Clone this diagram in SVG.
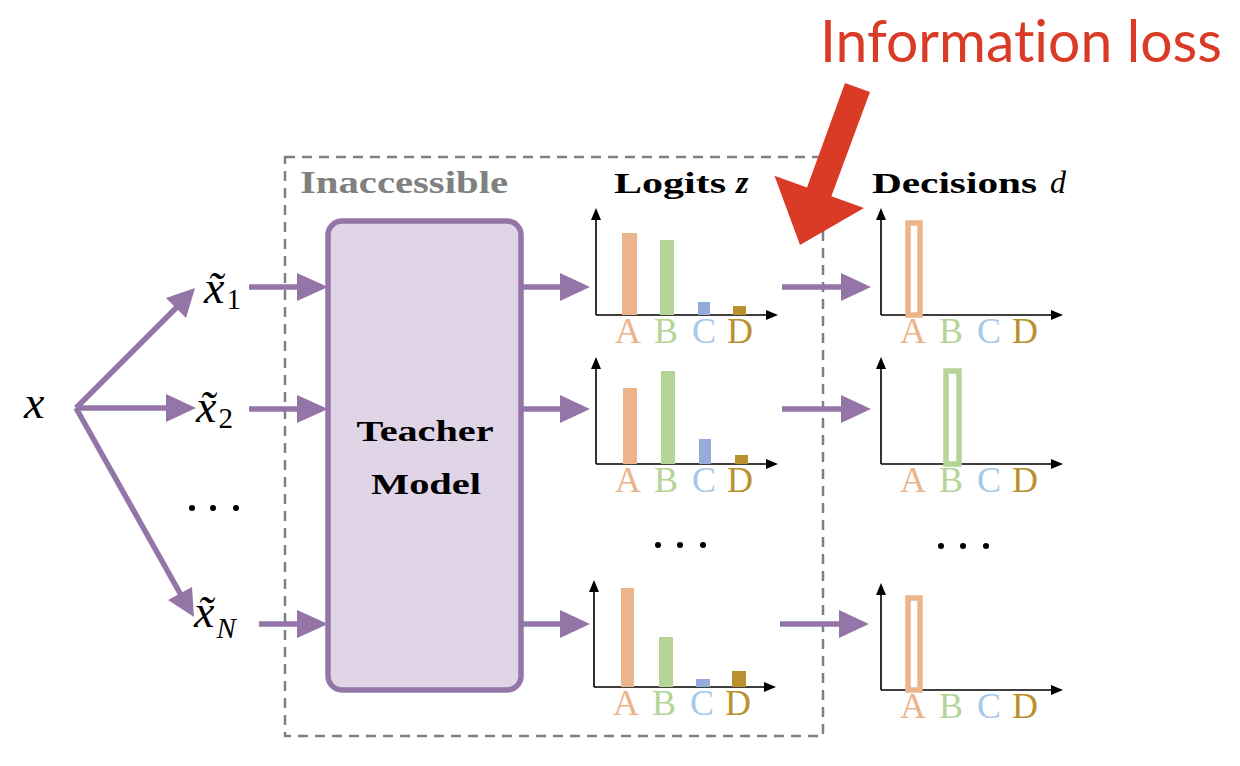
<svg xmlns="http://www.w3.org/2000/svg" width="1240" height="766" viewBox="0 0 1240 766">
<defs>
<style>
.pl{stroke:#9475a7;stroke-width:5.5;fill:none}
.ph{fill:#9475a7}
.ax{stroke:#000;stroke-width:1.6;fill:none}
.ah{fill:#000}
.lab{font-family:"Liberation Serif",serif;font-size:36px;text-anchor:middle}
.cA{fill:#ebb48b}.cB{fill:#b5d497}.cCb{fill:#95acdb}.cC{fill:#a9c7e7}.cD{fill:#bb9130}
.ob{fill:none;stroke-width:5.5}
.math{font-family:"Liberation Serif",serif;font-style:italic}
.rm{font-family:"Liberation Serif",serif;font-style:normal}
.ttl{font-family:"Liberation Serif",serif;font-weight:bold}
</style>
<g id="axes">
<path class="ax" d="M0,0 V-100 M0,0 H175"/>
<polygon class="ah" points="-5,-95 5,-95 0,-107"/>
<polygon class="ah" points="170,-5 170,5 182,0"/>
</g>
<g id="lbls">
<text class="lab cA" x="32" y="28">A</text>
<text class="lab cB" x="70" y="28">B</text>
<text class="lab cC" x="108" y="28">C</text>
<text class="lab cD" x="144" y="28">D</text>
</g>
</defs>

<g id="inaccessible">
<rect x="285" y="157" width="538" height="579" fill="none" stroke="#808080" stroke-width="2.5" stroke-dasharray="10,7"/>
<text class="ttl" x="300" y="193" font-size="31" fill="#808080" textLength="208" lengthAdjust="spacingAndGlyphs">Inaccessible</text>
</g>

<g id="teacher">
<rect x="328" y="221" width="193" height="469" rx="14" fill="#e0d4e7" stroke="#9475a7" stroke-width="5.5"/>
<text class="ttl" x="425" y="441" font-size="30" text-anchor="middle" textLength="137" lengthAdjust="spacingAndGlyphs">Teacher</text>
<text class="ttl" x="426" y="494" font-size="30" text-anchor="middle" textLength="110" lengthAdjust="spacingAndGlyphs">Model</text>
</g>

<g id="input-x">
<text class="math" x="24" y="418" font-size="46">x</text>
</g>
<g id="x1">
<text class="math" x="204" y="303" font-size="46">x&#x303;<tspan class="rm" font-size="29" dx="2" dy="6">1</tspan></text>
</g>
<g id="x2">
<text class="math" x="196" y="422" font-size="46">x&#x303;<tspan class="rm" font-size="29" dx="2" dy="6">2</tspan></text>
</g>
<g id="xN">
<text class="math" x="194" y="627" font-size="46">x&#x303;<tspan font-size="29" dx="2" dy="11">N</tspan></text>
</g>
<g id="dots-left" fill="#000">
<circle cx="192" cy="508" r="3"/><circle cx="213" cy="508" r="3"/><circle cx="236" cy="508" r="3"/>
</g>

<g id="logits">
<text class="ttl" x="614" y="193" font-size="30" textLength="112" lengthAdjust="spacingAndGlyphs">Logits</text>
<text class="math" x="736" y="193" font-size="32" font-weight="bold">z</text>
<g id="logit1" transform="translate(596,315)">
<use href="#axes"/>
<rect class="cA" x="26" y="-82" width="15" height="82"/>
<rect class="cB" x="64" y="-75" width="14" height="75"/>
<rect class="cCb" x="102" y="-13" width="12" height="13"/>
<rect class="cD" x="137" y="-9" width="13" height="9"/>
<use href="#lbls"/>
</g>
<g id="logit2" transform="translate(596,464)">
<use href="#axes"/>
<rect class="cA" x="27" y="-76" width="14" height="76"/>
<rect class="cB" x="65" y="-93" width="14" height="93"/>
<rect class="cCb" x="103" y="-25" width="12" height="25"/>
<rect class="cD" x="139" y="-9" width="13" height="9"/>
<use href="#lbls"/>
</g>
<g id="logit3" transform="translate(594,687)">
<use href="#axes"/>
<rect class="cA" x="27" y="-99" width="13" height="99"/>
<rect class="cB" x="65" y="-50" width="14" height="50"/>
<rect class="cCb" x="102" y="-8" width="14" height="8"/>
<rect class="cD" x="138" y="-16" width="14" height="16"/>
<use href="#lbls"/>
</g>
<g id="dots-mid" fill="#000">
<circle cx="658" cy="545" r="3"/><circle cx="680" cy="545" r="3"/><circle cx="703" cy="545" r="3"/>
</g>
</g>

<g id="decisions">
<text class="ttl" x="872" y="193" font-size="30" textLength="165" lengthAdjust="spacingAndGlyphs">Decisions</text>
<text class="math" x="1050" y="193" font-size="32">d</text>
<g id="dec1" transform="translate(881,315)">
<use href="#axes"/>
<rect class="ob" stroke="#ebb48b" x="27" y="-92" width="12" height="92"/>
<use href="#lbls"/>
</g>
<g id="dec2" transform="translate(881,464)">
<use href="#axes"/>
<rect class="ob" stroke="#b5d497" x="65" y="-93" width="13" height="93"/>
<use href="#lbls"/>
</g>
<g id="dec3" transform="translate(881,690)">
<use href="#axes"/>
<rect class="ob" stroke="#ebb48b" x="27" y="-92" width="12" height="92"/>
<use href="#lbls"/>
</g>
<g id="dots-right" fill="#000">
<circle cx="941" cy="546" r="3"/><circle cx="963" cy="546" r="3"/><circle cx="986" cy="546" r="3"/>
</g>
</g>

<g id="connectors">
<path class="pl" d="M76,408 L178,306"/>
<polygon class="ph" points="195,288 166,298 186,318"/>
<path class="pl" d="M76,408 H168"/>
<polygon class="ph" points="196,408 166,394 166,422"/>
<path class="pl" d="M76,408 L181,595"/>
<polygon class="ph" points="194,617 168,600 192,587"/>

<path class="pl" d="M249,287 H300"/>
<polygon class="ph" points="328,287 297,273 297,301"/>
<path class="pl" d="M249,409 H300"/>
<polygon class="ph" points="328,409 297,395 297,423"/>
<path class="pl" d="M259,624 H300"/>
<polygon class="ph" points="328,624 297,610 297,638"/>

<path class="pl" d="M521,287 H562"/>
<polygon class="ph" points="590,287 560,273 560,301"/>
<path class="pl" d="M521,409 H562"/>
<polygon class="ph" points="590,409 560,395 560,423"/>
<path class="pl" d="M521,624 H562"/>
<polygon class="ph" points="590,624 560,610 560,638"/>

<path class="pl" d="M782,287 H845"/>
<polygon class="ph" points="871,287 841,273 841,301"/>
<path class="pl" d="M782,409 H845"/>
<polygon class="ph" points="871,409 841,395 841,423"/>
<path class="pl" d="M780,624 H843"/>
<polygon class="ph" points="869,624 839,610 839,638"/>
</g>

<g id="information-loss">
<polygon fill="#d93b27" points="845,83 870,92 831.4,196.3 864,208 800,245 774.5,175.8 807,187.5"/>
<text x="820" y="62" font-family="Lato,'Open Sans',sans-serif" font-size="58" fill="#d93b27" style="font-variant-ligatures:none" textLength="402" lengthAdjust="spacingAndGlyphs">Information loss</text>
</g>
</svg>
